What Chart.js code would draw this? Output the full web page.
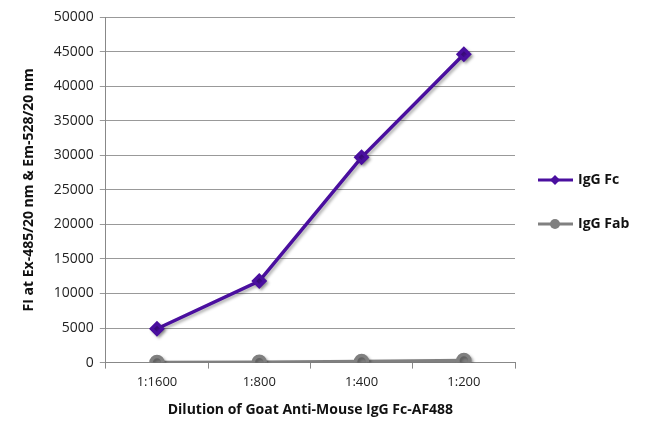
<!DOCTYPE html>
<html>
<head>
<meta charset="utf-8">
<script src="https://cdn.jsdelivr.net/npm/chart.js@4"></script>
<style>
  html, body { margin: 0; padding: 0; background: #fff; }
  #wrap { width: 650px; height: 440px; }
</style>
</head>
<body>
<div id="wrap"><canvas id="chart"></canvas></div>
<script>
const dilutions = ['1:1600', '1:800', '1:400', '1:200'];
const iggFc = [4900, 11800, 29700, 44600];
const iggFab = [20, 60, 150, 300];
const seriesNames = ['IgG Fc', 'IgG Fab'];

const FONT = '"Open Sans", "Noto Sans", sans-serif';

// line shadows + legend on the right
const shadowPlugin = {
  id: 'shadow',
  beforeDatasetsDraw(chart) {
    const ctx = chart.ctx;
    ctx.save();
    ctx.shadowColor = 'rgba(0,0,0,0.3)';
    ctx.shadowBlur = 3;
    ctx.shadowOffsetX = 2;
    ctx.shadowOffsetY = 2;
  },
  afterDatasetsDraw(chart) {
    chart.ctx.restore();
  }
};

const sideLegend = {
  id: 'sideLegend',
  afterDraw(chart) {
    const ctx = chart.ctx;
    const rows = [180, 224];
    chart.data.datasets.forEach((ds, i) => {
      const y = rows[i];
      ctx.save();
      ctx.strokeStyle = ds.borderColor;
      ctx.lineWidth = 3;
      ctx.beginPath();
      ctx.moveTo(538, y);
      ctx.lineTo(573, y);
      ctx.stroke();
      ctx.fillStyle = ds.backgroundColor;
      ctx.beginPath();
      if (ds.pointStyle === 'rectRot') {
        ctx.moveTo(555, y - 5); ctx.lineTo(560, y); ctx.lineTo(555, y + 5); ctx.lineTo(550, y);
      } else {
        ctx.arc(555, y, 5, 0, Math.PI * 2);
      }
      ctx.closePath();
      ctx.fill();
      ctx.fillStyle = '#111';
      ctx.font = 'bold 14px ' + FONT;
      ctx.textBaseline = 'middle';
      ctx.fillText(ds.label, 578, y);
      ctx.restore();
    });
  }
};

new Chart(document.getElementById('chart'), {
  type: 'line',
  data: {
    labels: dilutions,
    datasets: [
      {
        label: seriesNames[0],
        data: iggFc,
        borderColor: '#4a0f9f',
        backgroundColor: '#4a0f9f',
        borderWidth: 3.5,
        pointStyle: 'rectRot',
        pointRadius: 5.5,
        pointHoverRadius: 5.5
      },
      {
        label: seriesNames[1],
        data: iggFab,
        borderColor: '#808080',
        backgroundColor: '#808080',
        borderWidth: 3.5,
        pointStyle: 'circle',
        pointRadius: 6,
        pointHoverRadius: 6
      }
    ]
  },
  options: {
    animation: false,
    responsive: true,
    maintainAspectRatio: false,
    layout: { padding: { top: 17, right: 135, left: 17, bottom: 18 } },
    plugins: {
      legend: { display: false },
      tooltip: { enabled: false }
    },
    scales: {
      x: {
        offset: true,
        grid: {
          offset: true,
          drawOnChartArea: false,
          drawTicks: true,
          tickLength: 6,
          color: '#888'
        },
        border: { color: '#888', width: 1 },
        ticks: { color: '#222', font: { family: FONT, size: 13 }, padding: 6 },
        title: {
          display: true,
          text: 'Dilution of Goat Anti-Mouse IgG Fc-AF488',
          color: '#111',
          font: { family: FONT, size: 14, weight: 'bold' },
          padding: { top: 5 }
        }
      },
      y: {
        min: 0,
        max: 50000,
        ticks: {
          stepSize: 5000,
          color: '#222',
          font: { family: FONT, size: 14 },
          padding: 6,
          callback: v => String(v)
        },
        grid: { color: '#999', tickLength: 6, lineWidth: 1 },
        border: { color: '#888', width: 1 },
        title: {
          display: true,
          text: 'FI at Ex-485/20 nm & Em-528/20 nm',
          color: '#111',
          font: { family: FONT, size: 14, weight: 'bold' },
          padding: { bottom: 10 }
        }
      }
    }
  },
  plugins: [shadowPlugin, sideLegend]
});
</script>
</body>
</html>
